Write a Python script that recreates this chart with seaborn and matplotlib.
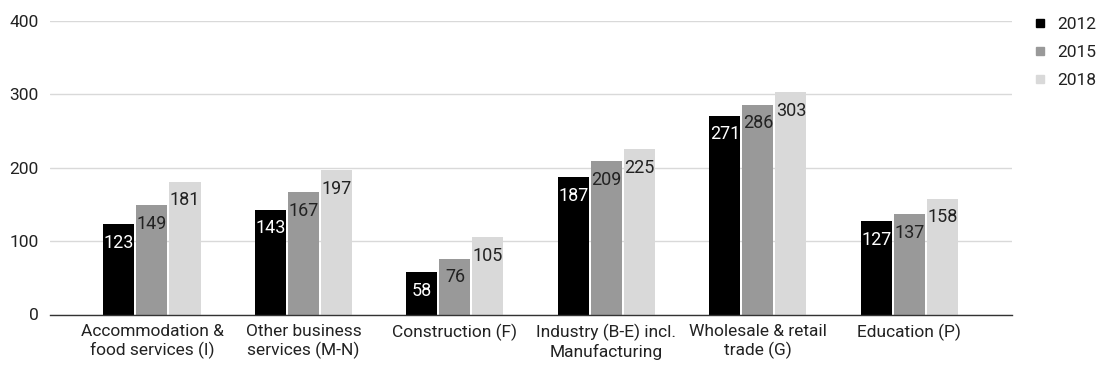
import matplotlib
matplotlib.use("Agg")
import matplotlib.pyplot as plt
from matplotlib.lines import Line2D
import seaborn as sns
import pandas as pd

categories = [
    "Accommodation &\nfood services (I)",
    "Other business\nservices (M-N)",
    "Construction (F)",
    "Industry (B-E) incl.\nManufacturing",
    "Wholesale & retail\ntrade (G)",
    "Education (P)",
]
years = ["2012", "2015", "2018"]
values_2012 = [123, 143, 58, 187, 271, 127]
values_2015 = [149, 167, 76, 209, 286, 137]
values_2018 = [181, 197, 105, 225, 303, 158]
y_ticks = [0, 100, 200, 300, 400]

colors = {"2012": "#000000", "2015": "#999999", "2018": "#d9d9d9"}
label_colors = {"2012": "#ffffff", "2015": "#222222", "2018": "#222222"}

rows = []
for year, vals in zip(years, [values_2012, values_2015, values_2018]):
    for cat, v in zip(categories, vals):
        rows.append({"category": cat, "year": year, "value": v})
df = pd.DataFrame(rows)

sns.set_theme(style="white")
plt.rcParams["font.family"] = ["Roboto", "DejaVu Sans"]

fig = plt.figure(figsize=(10.96, 3.67), dpi=100)
ax = fig.add_axes([50 / 1096, 1 - 314.5 / 367, 962 / 1096, (314.5 - 21) / 367])

sns.barplot(
    data=df, x="category", y="value", hue="year", order=categories,
    hue_order=years, palette=colors, width=0.654, gap=0.06,
    saturation=1, legend=False, ax=ax, linewidth=0,
)

# value labels just inside the top of each bar
for container, year in zip(ax.containers, years):
    for patch in container:
        h = patch.get_height()
        ax.annotate(f"{h:.0f}", (patch.get_x() + patch.get_width() / 2, h),
                    xytext=(0, -7), textcoords="offset points",
                    ha="center", va="top", fontsize=13,
                    color=label_colors[year])

ax.set_xlim(-0.673, 5.677)
ax.set_ylim(0, 400)
ax.set_yticks(y_ticks)
ax.set_yticklabels([str(t) for t in y_ticks])
ax.grid(axis="y", color="#d9d9d9", linewidth=1)
ax.set_axisbelow(True)
for side in ["top", "right", "left"]:
    ax.spines[side].set_visible(False)
ax.spines["bottom"].set_color("#333333")
ax.spines["bottom"].set_linewidth(1)
ax.tick_params(axis="both", length=0, labelsize=12.5, colors="#222222")
ax.tick_params(axis="y", pad=8)
ax.tick_params(axis="x", pad=7)
ax.set_xlabel("")
ax.set_ylabel("")

handles = [Line2D([0], [0], marker="s", linestyle="none", markersize=6,
                  markerfacecolor=colors[y], markeredgecolor=colors[y])
           for y in years]
fig.legend(handles, years, loc="upper left", bbox_to_anchor=(1016 / 1096, 1 - 1 / 367),
           frameon=False, fontsize=12.5, labelspacing=0.75, handletextpad=0.5,
           handlelength=1.0, labelcolor="#222222")

fig.savefig("out.png", dpi=100)
